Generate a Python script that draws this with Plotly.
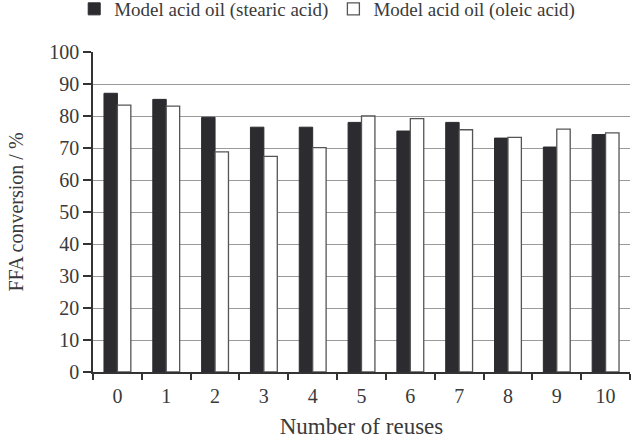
import plotly.graph_objects as go

reuses = ["0", "1", "2", "3", "4", "5", "6", "7", "8", "9", "10"]
stearic = [87.1, 85.2, 79.6, 76.5, 76.5, 78.0, 75.3, 78.0, 73.1, 70.3, 74.2]
oleic = [83.4, 83.1, 68.8, 67.4, 70.1, 80.0, 79.2, 75.7, 73.3, 75.9, 74.7]

font_family = "Liberation Serif"
txt = "#3a3a3a"

fig = go.Figure()
fig.add_trace(go.Bar(
    x=reuses, y=stearic, name="Model acid oil (stearic acid)",
    marker=dict(color="#2b2b30", line=dict(color="#2b2b30", width=1)),
))
fig.add_trace(go.Bar(
    x=reuses, y=oleic, name="Model acid oil (oleic acid)",
    marker=dict(color="white", line=dict(color="#555555", width=1.3)),
))

fig.update_layout(
    width=638, height=444,
    margin=dict(l=93, r=8, t=52, b=72, autoexpand=False),
    paper_bgcolor="white", plot_bgcolor="white",
    barmode="group", bargap=0.45, bargroupgap=0,
    font=dict(family=font_family, size=20, color=txt),
    legend=dict(
        orientation="h", x=-0.035, xanchor="left", y=1.075, yanchor="bottom",
        font=dict(family=font_family, size=19, color=txt),
        tracegroupgap=0, bgcolor="rgba(0,0,0,0)",
    ),
    showlegend=True,
)

fig.update_xaxes(
    type="category", automargin=False,
    showline=True, linecolor="#333333", linewidth=1.5,
    ticks="outside", tickson="boundaries", ticklen=6, tickwidth=1.5, tickcolor="#333333",
    ticklabelstandoff=5,
    showgrid=False,
    title=dict(text="Number of reuses", font=dict(family=font_family, size=23, color=txt), standoff=12),
    tickfont=dict(family=font_family, size=20, color=txt),
)
fig.update_yaxes(
    range=[0, 100], dtick=10, tick0=0, automargin=False,
    showline=True, linecolor="#333333", linewidth=1.5,
    ticks="outside", ticklen=8, tickwidth=1.5, tickcolor="#333333",
    showgrid=True, gridcolor="#9a9a9a", gridwidth=1.3,
    zeroline=False,
    title=dict(text="FFA conversion / %", font=dict(family=font_family, size=20, color=txt), standoff=20),
    tickfont=dict(family=font_family, size=20, color=txt),
)

fig.write_html("out.html")
